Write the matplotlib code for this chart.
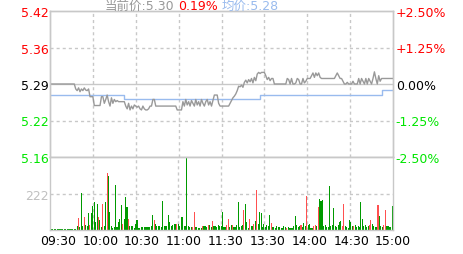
import numpy as np
import matplotlib
matplotlib.use("Agg")
import matplotlib.pyplot as plt

# --- data ------------------------------------------------------------------
prev_close = 5.29
last_price = "5.30"
last_pct = "0.19%"
avg_price = "5.28"

time_labels = ['09:30', '10:00', '10:30', '11:00', '11:30',
               '13:30', '14:00', '14:30', '15:00']

# minute-by-minute price (09:30..11:30, 13:01..15:00)
price = [
    5.290, 5.290, 5.290, 5.290, 5.290, 5.290, 5.290, 5.290, 5.290, 5.290,
    5.290, 5.290, 5.290, 5.290, 5.290, 5.290, 5.290, 5.290, 5.281, 5.278,
    5.283, 5.276, 5.281, 5.278, 5.283, 5.279, 5.278, 5.281, 5.267, 5.267,
    5.267, 5.251, 5.251, 5.251, 5.251, 5.251, 5.267, 5.267, 5.255, 5.262,
    5.270, 5.258, 5.250, 5.265, 5.255, 5.262, 5.258, 5.260, 5.258, 5.258,
    5.258, 5.258, 5.258, 5.250, 5.245, 5.255, 5.243, 5.250, 5.245, 5.252,
    5.250, 5.248, 5.250, 5.245, 5.243, 5.250, 5.245, 5.243, 5.243, 5.245,
    5.250, 5.250, 5.262, 5.262, 5.250, 5.250, 5.250, 5.250, 5.250, 5.250,
    5.250, 5.250, 5.250, 5.250, 5.250, 5.250, 5.250, 5.250, 5.250, 5.243,
    5.243, 5.243, 5.243, 5.258, 5.250, 5.262, 5.252, 5.258, 5.250, 5.260,
    5.255, 5.250, 5.262, 5.252, 5.258, 5.250, 5.262, 5.255, 5.250, 5.258,
    5.262, 5.252, 5.258, 5.250, 5.260, 5.270, 5.270, 5.270, 5.255, 5.250,
    5.250,
    5.250, 5.250, 5.250, 5.250, 5.250, 5.255, 5.260, 5.265, 5.268, 5.272,
    5.278, 5.286, 5.285, 5.288, 5.284, 5.293, 5.297, 5.292, 5.298, 5.294,
    5.300, 5.292, 5.302, 5.296, 5.308, 5.311, 5.309, 5.311, 5.311, 5.311,
    5.305, 5.298, 5.302, 5.296, 5.300, 5.300, 5.290, 5.290, 5.290, 5.290,
    5.290, 5.290, 5.290, 5.290, 5.290, 5.300, 5.298, 5.290, 5.300, 5.290,
    5.290, 5.292, 5.300, 5.298, 5.290, 5.290, 5.300, 5.292, 5.295, 5.300,
    5.300, 5.300, 5.305, 5.310, 5.302, 5.310, 5.305, 5.310, 5.302, 5.300,
    5.300, 5.300, 5.300, 5.300, 5.300, 5.300, 5.300, 5.300, 5.300, 5.305,
    5.310, 5.305, 5.300, 5.300, 5.295, 5.290, 5.290, 5.293, 5.290, 5.290,
    5.290, 5.295, 5.290, 5.290, 5.290, 5.300, 5.290, 5.300, 5.295, 5.290,
    5.300, 5.290, 5.300, 5.295, 5.290, 5.300, 5.312, 5.300, 5.290, 5.305,
    5.295, 5.300, 5.300, 5.300, 5.300, 5.300, 5.300, 5.300, 5.300, 5.300,
]

# average price line: changes at these minutes
avg_minute = [0, 52, 147, 232, 240]
avg_value = [5.270, 5.262, 5.270, 5.280, 5.280]

volume = [
    5, 5, 5, 5, 5, 5, 5, 5, 5, 5,
    5, 5, 5, 5, 5, 5, 5, 5, 5, 22,
    73, 16, 225, 22, 81, 30, 22, 103, 30, 103,
    148, 168, 51, 158, 77, 59, 16, 158, 22, 172,
    349, 330, 107, 22, 10, 16, 275, 16, 47, 67,
    152, 36, 67, 199, 138, 67, 22, 22, 22, 10,
    36, 61, 10, 10, 16, 16, 16, 16, 16, 16,
    16, 22, 91, 61, 36, 22, 22, 22, 16, 178,
    22, 22, 26, 91, 51, 22, 30, 36, 36, 36,
    36, 22, 77, 77, 22, 22, 444, 22, 16, 16,
    16, 111, 16, 16, 10, 10, 10, 22, 22, 22,
    16, 30, 30, 16, 57, 22, 22, 16, 30, 22,
    22, 111, 16, 16, 30, 67, 16, 30, 30, 16,
    16, 30, 172, 16, 22, 30, 122, 158, 47, 10,
    67, 22, 22, 36, 57, 243, 36, 111, 103, 16,
    36, 16, 30, 22, 91, 43, 16, 16, 10, 22,
    16, 16, 10, 10, 22, 16, 10, 16, 10, 10,
    10, 22, 87, 30, 16, 22, 30, 16, 43, 22,
    209, 30, 36, 10, 10, 22, 30, 22, 142, 188,
    178, 182, 22, 30, 16, 16, 268, 22, 30, 132,
    22, 16, 30, 47, 57, 22, 158, 22, 16, 10,
    61, 51, 22, 22, 30, 16, 22, 16, 172, 67,
    22, 30, 16, 22, 30, 63, 36, 22, 16, 16,
    152, 87, 22, 16, 30, 122, 22, 22, 16, 16,
    146,
]

# minutes whose volume bar is red (price up)
red_minutes = [20, 24, 28, 34, 37, 40, 51, 55, 73, 89, 100, 101, 107, 111,
               114, 124, 125, 128, 136, 140, 143, 145, 155, 166, 176, 180,
               185, 186, 188, 205, 206, 213, 224, 225, 230, 234, 235]

# --- styling ----------------------------------------------------------------
RED = '#ff0000'
GREEN = '#00e600'
BAR_RED = '#ff5050'
BAR_GREEN = '#009a00'
GRID = '#c8c8c8'
PRICE_C = '#999999'
AVG_C = '#99bbee'
DASH = (0, (2.2, 2.2))

W, H = 463, 255
fig = plt.figure(figsize=(W / 100, H / 100), dpi=100)
left, right = 50 / W, 393 / W
ax = fig.add_axes([left, 1 - 158 / H, right - left, 146 / H])
axv = fig.add_axes([left, 1 - 231 / H, right - left, 73 / H])

minutes = np.arange(len(price))
lo, hi = prev_close * 0.975, prev_close * 1.025

# price panel
ax.set_xlim(0, len(price) - 1)
ax.set_ylim(lo, hi)
for v in range(30, 240, 30):
    ax.axvline(v, color=GRID, lw=1, ls=DASH, zorder=1)
    axv.axvline(v, color=GRID, lw=1, ls=DASH, zorder=1)
ax.axhline(prev_close, color=GRID, lw=1, zorder=1)
ax.axhline(prev_close * 1.0125, color=GRID, lw=1, ls=DASH, zorder=1)
ax.axhline(prev_close * 0.9875, color=GRID, lw=1, ls=DASH, zorder=1)

ax.step(avg_minute, avg_value, where='post', color=AVG_C, lw=1, zorder=2)
ax.plot(minutes, price, color=PRICE_C, lw=1, zorder=3)

pct_levels = [2.5, 1.25, 0.0, -1.25, -2.5]
lvl_colors = [RED, RED, 'black', GREEN, GREEN]
ax.set_yticks([prev_close * (1 + p / 100) for p in pct_levels])
ax.set_yticklabels(['%.2f' % (prev_close * (1 + p / 100)) for p in pct_levels])
for lab, c in zip(ax.get_yticklabels(), lvl_colors):
    lab.set_color(c)
ax.set_xticks([])
ax.tick_params(axis='y', length=0, pad=1, labelsize=9)

ax2 = ax.twinx()
ax2.set_ylim(-2.5, 2.5)
ax2.set_yticks(pct_levels)
ax2.set_yticklabels(['+%.2f%%' % p if p > 0 else '%.2f%%' % p for p in pct_levels])
for lab, c in zip(ax2.get_yticklabels(), lvl_colors):
    lab.set_color(c)
ax2.tick_params(axis='y', length=0, pad=2, labelsize=9)

# volume panel
colors = [BAR_RED if i in red_minutes else BAR_GREEN for i in minutes]
axv.bar(minutes, volume, width=0.75, color=colors, linewidth=0,
        antialiased=False, zorder=2)
axv.set_xlim(0, len(price) - 1)
axv.set_ylim(0, 444)
axv.axhline(222, color=GRID, lw=1, ls=DASH, zorder=1)
axv.set_yticks([222])
axv.set_yticklabels(['222'], color='#c0c0c0')
axv.tick_params(axis='y', length=0, pad=1, labelsize=9)
axv.set_xticks([6, 35.3, 64.6, 93.9, 123.2, 152.6, 181.9, 211.2, 240.5])
axv.set_xticklabels(time_labels)
axv.tick_params(axis='x', length=0, pad=3, labelsize=9, colors='black')

for a in (ax, ax2, axv):
    for s in a.spines.values():
        s.set_color(GRID)
        s.set_linewidth(1)

# header line
cjk = ['DejaVu Sans', 'Noto Sans CJK SC']
ty = 1 - 9.5 / H
fig.text(105 / W, ty, '当前价:' + last_price, color='#999999', fontsize=9,
         va='baseline', family=cjk)
fig.text(178 / W, ty, last_pct, color=RED, fontsize=9, va='baseline', family=cjk)
fig.text(222 / W, ty, '均价:' + avg_price, color=AVG_C, fontsize=9,
         va='baseline', family=cjk)

fig.savefig('out.png', dpi=100)
